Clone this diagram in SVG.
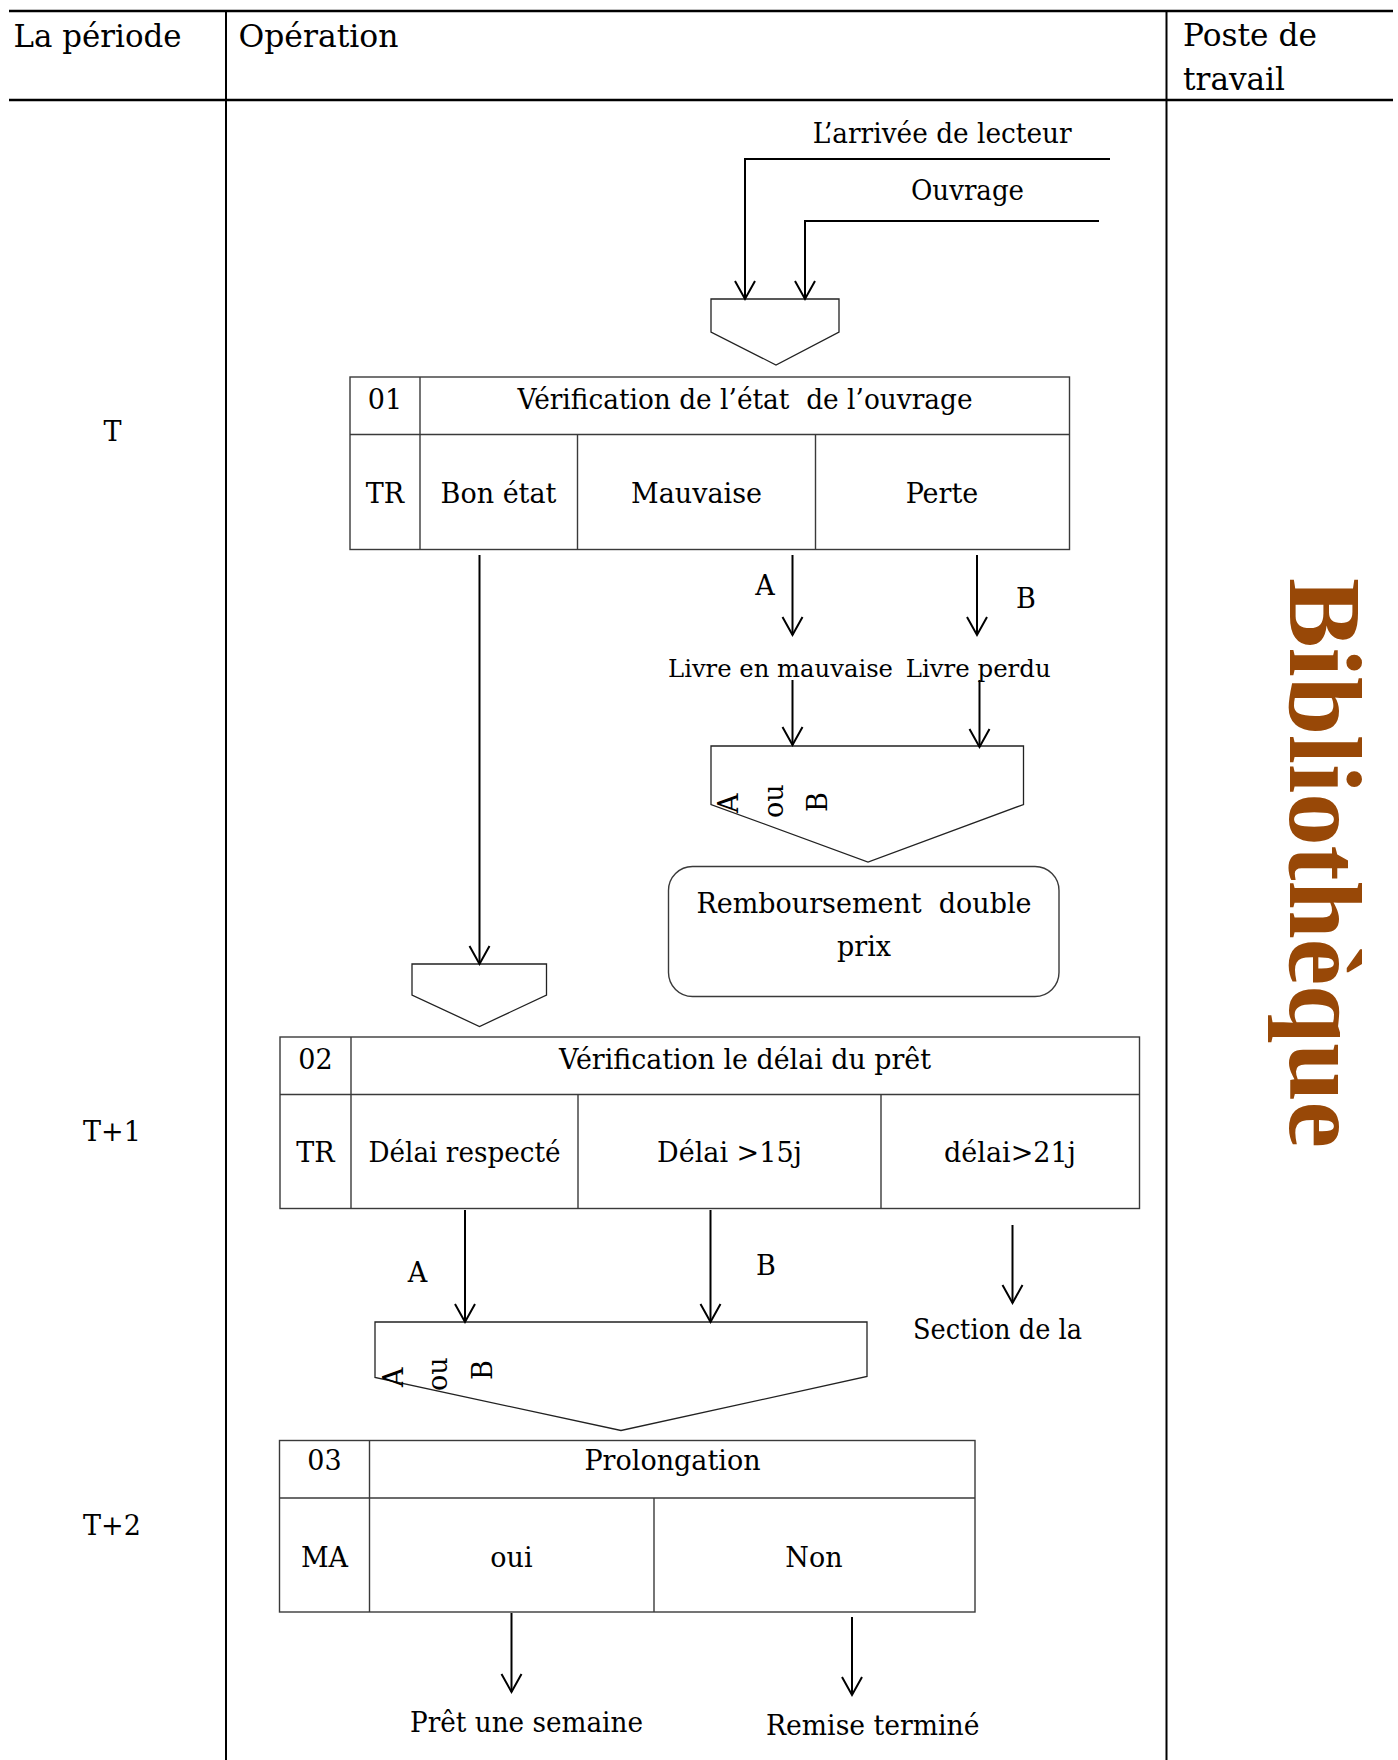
<svg xmlns="http://www.w3.org/2000/svg" width="1398" height="1760" viewBox="0 0 1398 1760">
<style>
  text { font-family: "DejaVu Serif", "Liberation Serif", serif; fill: #000; }
  .hd { font-size: 31px; }
  .t { font-size: 27px; }
  .sm { font-size: 24px; }
  .m { text-anchor: middle; }
  .grid { stroke: #000; fill: none; }
  .cell { stroke: #3a3a3a; stroke-width: 1.4; fill: #fff; }
  .div { stroke: #3a3a3a; stroke-width: 1.4; }
  .pent { stroke: #222; stroke-width: 1.3; fill: #fff; }
  .conn line, .conn polyline { stroke: #000; stroke-width: 2; fill: none; }
  .big { font-family: "Liberation Serif", "DejaVu Serif", serif; font-weight: bold; font-size: 104px; fill: #984807; }
</style>
<defs>
  <marker id="arr" viewBox="0 0 18 20" refX="18" refY="10" markerWidth="18" markerHeight="20" markerUnits="userSpaceOnUse" orient="auto" overflow="visible">
    <path d="M0,0 L18,10 L0,20" fill="none" stroke="#000" stroke-width="2"/>
  </marker>
</defs>
<rect width="1398" height="1760" fill="#fff"/>

<g id="frame">
  <line class="grid" x1="9" y1="11" x2="1393" y2="11" stroke-width="2.6"/>
  <line class="grid" x1="9" y1="100" x2="1393" y2="100" stroke-width="2.6"/>
  <line class="grid" x1="226" y1="11" x2="226" y2="1760" stroke-width="2"/>
  <line class="grid" x1="1166.5" y1="11" x2="1166.5" y2="1760" stroke-width="2"/>
  <text class="hd" x="13.5" y="46.7" textLength="168" lengthAdjust="spacingAndGlyphs">La période</text>
  <text class="hd" x="238.5" y="46.7" textLength="160" lengthAdjust="spacingAndGlyphs">Opération</text>
  <text class="hd" x="1183" y="45.7" textLength="134" lengthAdjust="spacingAndGlyphs">Poste de</text>
  <text class="hd" x="1183" y="90" textLength="102" lengthAdjust="spacingAndGlyphs">travail</text>
</g>

<g id="periods">
  <text class="t m" x="112.5" y="441">T</text>
  <text class="t m" x="112" y="1141">T+1</text>
  <text class="t m" x="112" y="1535">T+2</text>
</g>

<g id="inputs">
  <text class="t" x="812.7" y="143" textLength="259" lengthAdjust="spacingAndGlyphs">L’arrivée de lecteur</text>
  <text class="t" x="911" y="200" textLength="113" lengthAdjust="spacingAndGlyphs">Ouvrage</text>
</g>

<g id="merge1">
  <polygon class="pent" points="711,299 839,299 839,332 776,365 711,332"/>
</g>

<g id="op01">
  <rect class="cell" x="350" y="377" width="719.5" height="172.5"/>
  <line class="div" x1="350" y1="434.5" x2="1069.5" y2="434.5"/>
  <line class="div" x1="420" y1="377" x2="420" y2="549.5"/>
  <line class="div" x1="577.5" y1="434.5" x2="577.5" y2="549.5"/>
  <line class="div" x1="815.5" y1="434.5" x2="815.5" y2="549.5"/>
  <text class="t m" x="385" y="408.5">01</text>
  <text class="t m" x="745" y="408.5" xml:space="preserve" textLength="455" lengthAdjust="spacingAndGlyphs">Vérification de l’état  de l’ouvrage</text>
  <text class="t m" x="385" y="503">TR</text>
  <text class="t m" x="498.5" y="503">Bon état</text>
  <text class="t m" x="696.5" y="503">Mauvaise</text>
  <text class="t m" x="942" y="503">Perte</text>
</g>

<g id="labels01">
  <text class="t m" x="765" y="595">A</text>
  <text class="t m" x="1026" y="608">B</text>
  <text class="sm" x="668" y="676.7" textLength="225" lengthAdjust="spacingAndGlyphs">Livre en mauvaise</text>
  <text class="sm" x="905.7" y="676.7" textLength="145" lengthAdjust="spacingAndGlyphs">Livre perdu</text>
</g>

<g id="merge2">
  <polygon class="pent" points="711,746 1023.5,746 1023.5,804.5 868,862 711,804.5"/>
  <text class="t" transform="translate(738,813) rotate(-90)">A</text>
  <text class="t" transform="translate(783,818) rotate(-90)">ou</text>
  <text class="t" transform="translate(827,812) rotate(-90)">B</text>
</g>

<g id="remboursement">
  <rect class="cell" x="668.5" y="866.5" width="390.5" height="130" rx="24" ry="24"/>
  <text class="t m" x="864" y="913" xml:space="preserve" textLength="335" lengthAdjust="spacingAndGlyphs">Remboursement  double</text>
  <text class="t m" x="864" y="956">prix</text>
</g>

<g id="merge3">
  <polygon class="pent" points="412,964 546.5,964 546.5,995 479.5,1026.5 412,995"/>
</g>

<g id="op02">
  <rect class="cell" x="280" y="1037" width="859.5" height="171.5"/>
  <line class="div" x1="280" y1="1094.5" x2="1139.5" y2="1094.5"/>
  <line class="div" x1="351" y1="1037" x2="351" y2="1208.5"/>
  <line class="div" x1="578" y1="1094.5" x2="578" y2="1208.5"/>
  <line class="div" x1="881" y1="1094.5" x2="881" y2="1208.5"/>
  <text class="t m" x="315.5" y="1068.5">02</text>
  <text class="t m" x="745" y="1068.5" textLength="372" lengthAdjust="spacingAndGlyphs">Vérification le délai du prêt</text>
  <text class="t m" x="315.5" y="1162">TR</text>
  <text class="t m" x="464.5" y="1162" textLength="192" lengthAdjust="spacingAndGlyphs">Délai respecté</text>
  <text class="t m" x="729.5" y="1162">Délai &gt;15j</text>
  <text class="t m" x="1010" y="1162">délai&gt;21j</text>
</g>

<g id="labels02">
  <text class="t m" x="417.5" y="1282">A</text>
  <text class="t m" x="766" y="1274.5">B</text>
  <text class="t" x="913" y="1338.5" textLength="169" lengthAdjust="spacingAndGlyphs">Section de la</text>
</g>

<g id="merge4">
  <polygon class="pent" points="375,1322 867,1322 867,1376.5 621,1430.5 375,1377.5"/>
  <text class="t" transform="translate(402.5,1387) rotate(-90)">A</text>
  <text class="t" transform="translate(447,1391) rotate(-90)">ou</text>
  <text class="t" transform="translate(492,1380) rotate(-90)">B</text>
</g>

<g id="op03">
  <rect class="cell" x="279.5" y="1440.5" width="695.5" height="171.5"/>
  <line class="div" x1="279.5" y1="1498" x2="975" y2="1498"/>
  <line class="div" x1="369.5" y1="1440.5" x2="369.5" y2="1612"/>
  <line class="div" x1="654" y1="1498" x2="654" y2="1612"/>
  <text class="t m" x="324.5" y="1470">03</text>
  <text class="t m" x="672.5" y="1470">Prolongation</text>
  <text class="t m" x="324.5" y="1566.5">MA</text>
  <text class="t m" x="511.5" y="1566.5">oui</text>
  <text class="t m" x="814" y="1566.5">Non</text>
</g>

<g id="outcomes">
  <text class="t" x="410" y="1732" textLength="233" lengthAdjust="spacingAndGlyphs">Prêt une semaine</text>
  <text class="t" x="766" y="1735" textLength="213.5" lengthAdjust="spacingAndGlyphs">Remise terminé</text>
</g>

<g id="poste">
  <text class="big" transform="translate(1290,578) rotate(90)" textLength="570" lengthAdjust="spacingAndGlyphs">Bibliothèque</text>
</g>

<g id="connectors" class="conn">
  <polyline points="1110,159 745,159 745,299" marker-end="url(#arr)"/>
  <polyline points="1099,221 805,221 805,299" marker-end="url(#arr)"/>
  <line x1="479.5" y1="555" x2="479.5" y2="964" marker-end="url(#arr)"/>
  <line x1="792.5" y1="555" x2="792.5" y2="635" marker-end="url(#arr)"/>
  <line x1="977" y1="555" x2="977" y2="635" marker-end="url(#arr)"/>
  <line x1="792.5" y1="680" x2="792.5" y2="745" marker-end="url(#arr)"/>
  <line x1="979.5" y1="680" x2="979.5" y2="747" marker-end="url(#arr)"/>
  <line x1="465" y1="1210" x2="465" y2="1322" marker-end="url(#arr)"/>
  <line x1="710.5" y1="1210" x2="710.5" y2="1322" marker-end="url(#arr)"/>
  <line x1="1012.5" y1="1225" x2="1012.5" y2="1303" marker-end="url(#arr)"/>
  <line x1="511.5" y1="1613" x2="511.5" y2="1692" marker-end="url(#arr)"/>
  <line x1="852" y1="1617" x2="852" y2="1695" marker-end="url(#arr)"/>
</g>
</svg>
